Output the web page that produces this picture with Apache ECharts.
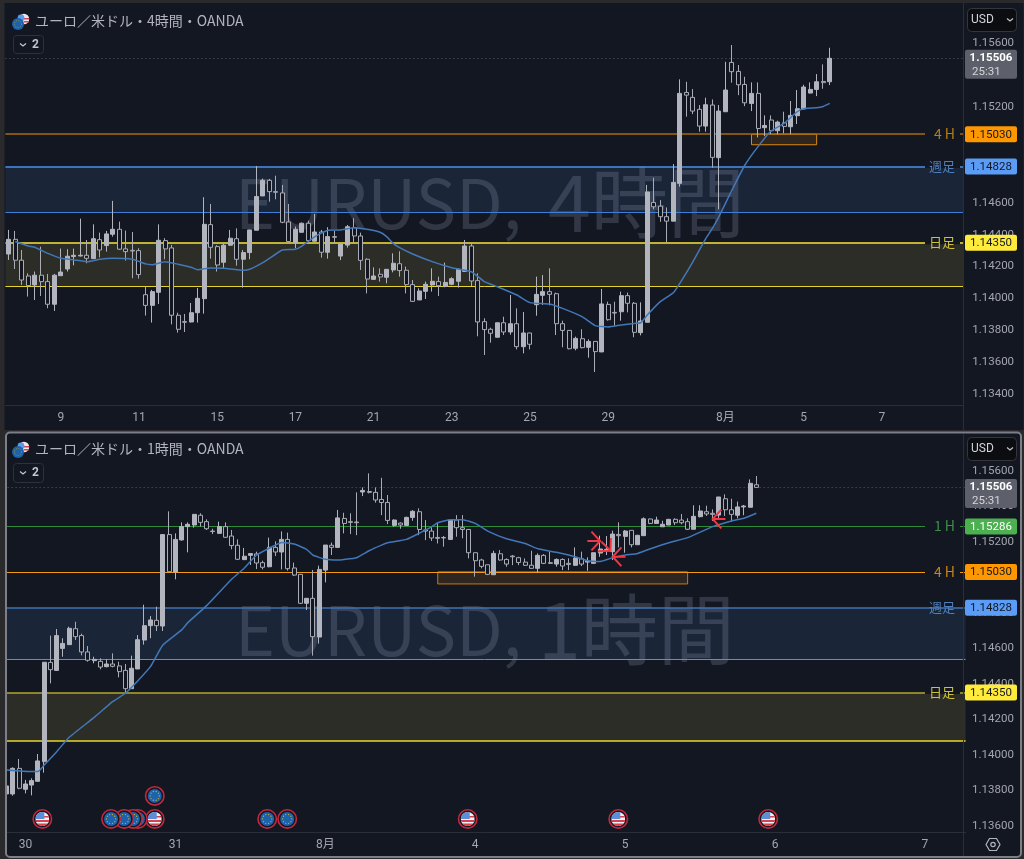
<!DOCTYPE html>
<html><head><meta charset="utf-8">
<style>html,body{margin:0;padding:0;background:#2a2a2c}#c{width:1024px;height:859px}</style>
<script src="https://cdn.jsdelivr.net/npm/echarts@6/dist/echarts.min.js"></script>
</head><body><div id="c"></div>
<script>
// [open, close, low, high]
const candles4h=[
[1.14279,1.14371,1.14242,1.14430],[1.14371,1.14240,1.14185,1.14424],[1.14240,1.14116,1.14085,1.14304],[1.14141,1.14081,1.14012,1.14158],
[1.14085,1.14146,1.13991,1.14169],[1.14146,1.14106,1.14016,1.14325],[1.14106,1.13964,1.13939,1.14154],[1.13964,1.14146,1.13922,1.14154],
[1.14143,1.14166,1.14143,1.14313],[1.14185,1.14265,1.14169,1.14309],[1.14263,1.14271,1.14208,1.14313],[1.14267,1.14271,1.14263,1.14501],
[1.14271,1.14252,1.14221,1.14367],[1.14250,1.14375,1.14250,1.14465],[1.14369,1.14304,1.14258,1.14413],[1.14332,1.14405,1.14294,1.14424],
[1.14403,1.14434,1.14388,1.14612],[1.14434,1.14309,1.14304,1.14482],[1.14311,1.14294,1.14238,1.14426],[1.14302,1.14298,1.14127,1.14417],
[1.14300,1.14150,1.14125,1.14315],[1.14024,1.13957,1.13893,1.14074],[1.13957,1.14043,1.13849,1.14054],[1.14039,1.14365,1.13966,1.14465],
[1.14363,1.14311,1.14246,1.14378],[1.14317,1.13895,1.13838,1.14336],[1.13895,1.13807,1.13786,1.13911],[1.13855,1.13851,1.13790,1.13903],
[1.13853,1.13911,1.13849,1.13972],[1.13911,1.14001,1.13849,1.14066],[1.13999,1.14465,1.13905,1.14635],[1.14463,1.14321,1.14250,1.14593],
[1.14325,1.14210,1.14169,1.14334],[1.14227,1.14334,1.14185,1.14346],[1.14334,1.14378,1.14329,1.14430],[1.14375,1.14246,1.14206,1.14440],
[1.14246,1.14288,1.14068,1.14304],[1.14288,1.14430,1.14246,1.14430],[1.14428,1.14639,1.14428,1.14831],[1.14643,1.14741,1.14643,1.14752],
[1.14741,1.14670,1.14607,1.14750],[1.14670,1.14666,1.14622,1.14770],[1.14662,1.14478,1.14472,1.14712],[1.14480,1.14357,1.14352,1.14593],
[1.14350,1.14434,1.14315,1.14451],[1.14415,1.14472,1.14413,1.14476],[1.14472,1.14363,1.14357,1.14488],[1.14359,1.14417,1.14357,1.14530],
[1.14417,1.14290,1.14256,1.14430],[1.14290,1.14388,1.14250,1.14447],[1.14388,1.14384,1.14350,1.14424],
[1.14266,1.14342,1.14241,1.14342],[1.14335,1.14450,1.14319,1.14461],[1.14444,1.14392,1.14346,1.14503],[1.14392,1.14239,1.14179,1.14413],
[1.14246,1.14122,1.14032,1.14252],[1.14120,1.14141,1.14116,1.14195],[1.14152,1.14135,1.14106,1.14189],[1.14133,1.14183,1.14095,1.14183],
[1.14179,1.14221,1.14164,1.14283],[1.14218,1.14175,1.14137,1.14296],[1.14177,1.14087,1.14032,1.14200],[1.14087,1.13982,1.13980,1.14116],
[1.13991,1.14047,1.13991,1.14064],[1.14045,1.14089,1.13997,1.14106],[1.14085,1.14108,1.14043,1.14189],[1.14106,1.14080,1.14016,1.14137],
[1.14076,1.14101,1.14070,1.14225],[1.14089,1.14124,1.14083,1.14133],[1.14108,1.14183,1.14068,1.14189],[1.14170,1.14329,1.14166,1.14367],
[1.14329,1.14110,1.14078,1.14354],[1.14112,1.13853,1.13763,1.14158],[1.13855,1.13805,1.13646,1.13876],[1.13807,1.13782,1.13723,1.13817],
[1.13757,1.13848,1.13757,1.13848],[1.13848,1.13790,1.13771,1.13886],[1.13790,1.13842,1.13773,1.14022],[1.13842,1.13698,1.13681,1.13938],
[1.13698,1.13784,1.13656,1.13915],[1.13784,1.13713,1.13681,1.13784],[1.13961,1.14026,1.13892,1.14137],[1.14020,1.14043,1.13959,1.14147],
[1.14043,1.14026,1.13957,1.14189],[1.14030,1.13842,1.13771,1.14037],[1.13842,1.13800,1.13694,1.13861],[1.13800,1.13685,1.13681,1.13800],
[1.13688,1.13750,1.13675,1.13761],[1.13748,1.13692,1.13688,1.13807],[1.13694,1.13731,1.13629,1.13744],[1.13731,1.13667,1.13539,1.13731],
[1.13665,1.13966,1.13665,1.14060],[1.13963,1.13867,1.13861,1.13980],[1.13913,1.13909,1.13830,1.13980],[1.13917,1.14018,1.13861,1.14043],
[1.14018,1.13970,1.13913,1.14037],[1.13970,1.13788,1.13757,1.13978],[1.13786,1.13859,1.13769,1.13976],[1.13851,1.14668,1.13851,1.14712],
[1.14602,1.14575,1.14559,1.14757],[1.14579,1.14513,1.14481,1.14617],[1.14513,1.14485,1.14352,1.14571],[1.14485,1.14728,1.14485,1.14843],
[1.14722,1.15286,1.14701,1.15374],[1.15292,1.15275,1.15140,1.15359],[1.15261,1.15175,1.15156,1.15313],[1.15186,1.15081,1.15046,1.15213],
[1.15081,1.15215,1.15046,1.15259],[1.15213,1.14885,1.14820,1.15248],[1.14883,1.15175,1.14559,1.15213],[1.15171,1.15307,1.15171,1.15484],
[1.15480,1.15422,1.15353,1.15589],[1.15424,1.15340,1.15275,1.15464],[1.15342,1.15227,1.15206,1.15390],[1.15223,1.15286,1.15175,1.15355],
[1.15286,1.15066,1.15010,1.15355],[1.15071,1.15085,1.15018,1.15148],[1.15119,1.15052,1.15031,1.15148],[1.15052,1.15106,1.15029,1.15115],
[1.15102,1.15079,1.15035,1.15171],[1.15077,1.15148,1.15031,1.15238],[1.15146,1.15190,1.15094,1.15307],[1.15188,1.15326,1.15186,1.15340],
[1.15288,1.15311,1.15286,1.15355],[1.15311,1.15359,1.15269,1.15407],[1.15361,1.15353,1.15315,1.15468],[1.15359,1.15506,1.15338,1.15572]
];
const candles1h=[
[1.13779,1.13824,1.13770,1.13830],[1.13779,1.13923,1.13769,1.13929],[1.13923,1.13811,1.13805,1.13976],[1.13805,1.13835,1.13782,1.13858],
[1.13829,1.13854,1.13771,1.13867],[1.13850,1.13965,1.13850,1.14004],[1.13961,1.14521,1.13899,1.14521],[1.14520,1.14479,1.14402,1.14671],
[1.14475,1.14671,1.14472,1.14708],[1.14599,1.14627,1.14552,1.14656],[1.14620,1.14712,1.14620,1.14721],[1.14710,1.14665,1.14646,1.14749],
[1.14671,1.14579,1.14560,1.14682],[1.14579,1.14532,1.14524,1.14612],[1.14530,1.14537,1.14515,1.14552],[1.14526,1.14494,1.14481,1.14543],
[1.14496,1.14511,1.14492,1.14537],[1.14511,1.14498,1.14492,1.14571],[1.14500,1.14468,1.14436,1.14524],[1.14475,1.14372,1.14346,1.14511],
[1.14372,1.14487,1.14370,1.14558],[1.14483,1.14648,1.14483,1.14674],[1.14646,1.14727,1.14620,1.14845],[1.14727,1.14759,1.14656,1.14781],
[1.14757,1.14727,1.14697,1.14834],[1.14725,1.15240,1.14697,1.15240],[1.15240,1.15031,1.15031,1.15371],[1.15029,1.15213,1.14988,1.15247],
[1.15210,1.15285,1.15206,1.15309],[1.15285,1.15298,1.15140,1.15309],[1.15294,1.15354,1.15279,1.15354],[1.15349,1.15309,1.15285,1.15360],
[1.15313,1.15273,1.15266,1.15326],[1.15260,1.15257,1.15243,1.15273],[1.15247,1.15285,1.15243,1.15313],[1.15285,1.15225,1.15221,1.15309],
[1.15232,1.15178,1.15157,1.15266],[1.15180,1.15101,1.15097,1.15213],[1.15099,1.15118,1.15097,1.15165],[1.15123,1.15133,1.15069,1.15135],
[1.15131,1.15080,1.15046,1.15144],[1.15082,1.15056,1.15044,1.15093],[1.15059,1.15168,1.15056,1.15223],[1.15168,1.15142,1.15119,1.15202],
[1.15142,1.15213,1.15044,1.15258],[1.15213,1.15048,1.15037,1.15251],[1.15052,1.15012,1.15007,1.15082],[1.15016,1.14853,1.14849,1.15016],
[1.14853,1.14881,1.14815,1.14881],[1.14881,1.14665,1.14558,1.15041],[1.14663,1.15044,1.14626,1.15065],[1.15040,1.15181,1.14971,1.15181],
[1.15180,1.15168,1.15125,1.15195],[1.15168,1.15334,1.15165,1.15379],[1.15331,1.15303,1.15247,1.15363],[1.15313,1.15309,1.15243,1.15360],
[1.15311,1.15307,1.15237,1.15478],[1.15480,1.15489,1.15457,1.15506],[1.15483,1.15478,1.15472,1.15585],[1.15478,1.15435,1.15420,1.15506],
[1.15438,1.15421,1.15350,1.15560],[1.15421,1.15320,1.15299,1.15463],[1.15292,1.15322,1.15284,1.15326],[1.15305,1.15294,1.15273,1.15309],
[1.15292,1.15337,1.15292,1.15341],[1.15337,1.15371,1.15318,1.15378],[1.15369,1.15269,1.15237,1.15388],[1.15266,1.15260,1.15209,1.15322],
[1.15260,1.15221,1.15204,1.15284],[1.15224,1.15219,1.15190,1.15307],[1.15224,1.15221,1.15172,1.15232],[1.15213,1.15322,1.15209,1.15326],
[1.15322,1.15279,1.15228,1.15350],[1.15279,1.15269,1.15219,1.15350],[1.15269,1.15138,1.15106,1.15269],[1.15138,1.15093,1.15003,1.15138],
[1.15097,1.15061,1.15050,1.15104],[1.15070,1.15016,1.15012,1.15070],[1.15014,1.15134,1.15014,1.15149],[1.15132,1.15097,1.15093,1.15153],
[1.15100,1.15074,1.15059,1.15106],[1.15119,1.15115,1.15068,1.15125],[1.15110,1.15083,1.15068,1.15115],[1.15085,1.15067,1.15063,1.15106],
[1.15067,1.15050,1.15050,1.15149],[1.15050,1.15123,1.15025,1.15134],[1.15123,1.15078,1.15074,1.15130],[1.15082,1.15078,1.15074,1.15144],
[1.15074,1.15100,1.15059,1.15106],[1.15100,1.15063,1.15040,1.15106],[1.15078,1.15072,1.15040,1.15106],[1.15067,1.15108,1.15063,1.15168],
[1.15104,1.15074,1.15063,1.15144],[1.15085,1.15091,1.15036,1.15112],[1.15078,1.15138,1.15078,1.15138],[1.15136,1.15159,1.15115,1.15234],
[1.15149,1.15157,1.15125,1.15232],[1.15144,1.15243,1.15097,1.15262],[1.15241,1.15234,1.15168,1.15309],[1.15230,1.15260,1.15138,1.15266],
[1.15264,1.15183,1.15168,1.15264],[1.15183,1.15236,1.15183,1.15239],[1.15234,1.15329,1.15232,1.15337],[1.15328,1.15303,1.15299,1.15331],
[1.15303,1.15322,1.15303,1.15341],[1.15284,1.15298,1.15284,1.15318],[1.15294,1.15326,1.15294,1.15328],[1.15326,1.15307,1.15294,1.15332],
[1.15322,1.15307,1.15298,1.15356],[1.15313,1.15270,1.15266,1.15332],[1.15270,1.15343,1.15270,1.15405],[1.15341,1.15373,1.15337,1.15405],
[1.15369,1.15356,1.15345,1.15403],[1.15360,1.15354,1.15317,1.15382],[1.15350,1.15452,1.15322,1.15452],[1.15442,1.15380,1.15345,1.15467],
[1.15380,1.15354,1.15313,1.15442],[1.15349,1.15396,1.15332,1.15426],[1.15396,1.15401,1.15349,1.15407],[1.15394,1.15529,1.15394,1.15551],
[1.15521,1.15506,1.15506,1.15570]
];
// moving average, read as [candle index, price]
const ma4h=[[1,1.14357],[3,1.14329],[4,1.14321],[6,1.14283],[8,1.14252],[10,1.14242],[12,1.14231],[14,1.14246],[16,1.14252],[19,1.14246],[21,1.14217],[22,1.14212],[24,1.14231],[26,1.14215],[28,1.14196],[29,1.14181],[31,1.14192],[33,1.14190],[36,1.14177],[37,1.14183],[39,1.14225],[41,1.14279],[42,1.14304],[44,1.14309],[45,1.14329],[47,1.14388],[49,1.14428],[50,1.14430],[51,1.14430],[53,1.14444],[55,1.14434],[57,1.14415],[58,1.14388],[59,1.14346],[60,1.14319],[62,1.14279],[65,1.14231],[68,1.14193],[71,1.14168],[73,1.14106],[75,1.14074],[78,1.14022],[80,1.13974],[83,1.13965],[85,1.13938],[88,1.13886],[90,1.13830],[92,1.13821],[94,1.13834],[96,1.13844],[97,1.13848],[98,1.13896],[100,1.13980],[102,1.14036],[103,1.14095],[105,1.14230],[107,1.14377],[108,1.14439],[109,1.14513],[111,1.14680],[113,1.14837],[115,1.14952],[117,1.15050],[119,1.15098],[121,1.15171],[122,1.15190],[124,1.15196],[125,1.15204],[126,1.15223]];
const ma1h=[[0,1.13914],[4,1.13905],[5,1.13905],[6,1.13942],[8,1.14017],[10,1.14098],[14,1.14210],[17,1.14300],[19,1.14346],[21,1.14417],[23,1.14496],[25,1.14618],[28,1.14703],[29,1.14744],[32,1.14840],[36,1.14988],[38,1.15050],[40,1.15125],[43,1.15181],[44,1.15196],[46,1.15187],[48,1.15157],[49,1.15125],[51,1.15101],[53,1.15097],[54,1.15100],[56,1.15110],[58,1.15149],[60,1.15181],[61,1.15194],[64,1.15213],[66,1.15247],[68,1.15284],[69,1.15307],[71,1.15324],[73,1.15324],[75,1.15303],[77,1.15260],[80,1.15217],[83,1.15190],[85,1.15160],[88,1.15140],[91,1.15115],[93,1.15093],[95,1.15089],[97,1.15110],[99,1.15125],[101,1.15134],[104,1.15172],[106,1.15194],[109,1.15223],[113,1.15285],[116,1.15317],[118,1.15332],[120,1.15360]];
const xIdx4h=[8,20,32,44,56,68,80,92,110,122,134];
const xLab4h=['9','11','15','17','21','23','25','29','8月','5','7'];
const xIdx1h=[3,27,51,75,99,123,147];
const xLab1h=['30','31','8月','4','5','6','7'];
const yTicks4h=[1.156,1.154,1.152,1.15,1.148,1.146,1.144,1.142,1.14,1.138,1.136,1.134];
const yTicks1h=[1.156,1.154,1.152,1.15,1.148,1.146,1.144,1.142,1.14,1.138,1.136];
const lastPrice=1.15506;
const countdown='25:31';
const level1H=1.15286, level4H=1.1503, levelW=1.14828, levelWLow4h=1.14542, levelWLow1h=1.14539, levelD=1.1435, levelDLow=1.14078;
const box4h=[114,124,1.1503,1.14964];
const box1h=[69,109,1.1503,1.14962];
// [candle position, price, kind]
const events=[[73.8,1.13638,'US'],[97.9,1.13638,'US'],[121.9,1.13638,'US'],[44.9,1.13638,'EU'],[41.7,1.13638,'EU'],[23.7,1.13768,'EU'],[23.7,1.13638,'US'],[5.7,1.13638,'US'],[21.0,1.13638,'EU'],[20.2,1.13638,'EU'],[18.8,1.13638,'EU'],[16.7,1.13638,'EU']];
// [candle position, price, direction in degrees]
const arrows=[[95,1.15204,0],[96.65,1.15149,45],[97,1.15115,180],[113,1.15328,180]];

const PANEL='#131722', UP='#b2b5be', FONT='Roboto, "Noto Sans CJK JP", sans-serif', CJK='"Noto Sans CJK JP", sans-serif';
const WM='rgba(150,160,185,0.24)';
const cats=(n,idx,lab)=>{const a=Array(n).fill('');idx.forEach((v,i)=>a[v]=lab[i]);return a;};
const xPos=(api,v)=>{const f=Math.floor(v);return api.coord([f,0])[0]+(v-f)*api.size([1,0])[0];};

function tagSeries(gi,list){
 return {type:'custom',xAxisIndex:gi,yAxisIndex:gi,clip:false,silent:true,z:4,data:list.map(t=>[0,t.v]),
  renderItem(p,api){
   const t=list[p.dataIndex], y=api.coord([0,t.v])[1], ch=[];
   if(t.last){
    ch.push({type:'rect',shape:{x:965,y:y-8.5,width:52,height:29,r:2},style:{fill:'#5d606b'}});
    ch.push({type:'text',style:{x:991,y:y,text:t.v.toFixed(5),fill:'#fff',font:'bold 11.5px '+FONT,align:'center',verticalAlign:'middle'}});
    ch.push({type:'text',style:{x:972,y:y+14,text:countdown,fill:'#d4d5da',font:'11.5px '+FONT,align:'left',verticalAlign:'middle'}});
   }else{
    ch.push({type:'rect',shape:{x:965,y:y-8,width:52,height:16,r:2},style:{fill:t.fill}});
    ch.push({type:'text',style:{x:991,y:y+.5,text:t.v.toFixed(5),fill:t.ink,font:'11.5px '+FONT,align:'center',verticalAlign:'middle'}});
    if(t.bg)ch.push({type:'rect',shape:{x:925,y:y-1.5,width:35,height:3},style:{fill:t.bg}});
    ch.push({type:'text',style:{x:955,y:y-.5,text:t.text,fill:t.tc,font:(t.text.includes('H')?'14px ':'13px ')+CJK,align:'right',verticalAlign:'middle'}});
   }
   return {type:'group',children:ch};
  }};
}
function bars(gi,data,extra){
 return Object.assign({type:'candlestick',xAxisIndex:gi,yAxisIndex:gi,data,barWidth:4.5,z:3,silent:true,
  itemStyle:{color:UP,color0:PANEL,borderColor:'#b2b5be',borderColor0:'#a9acb5',borderWidth:1}},extra);
}
const lineItem=(v,color,width,type)=>({yAxis:v,lineStyle:{color,width,type:type||'solid'}});
const flagIcon=(x,y,kind)=>{
 const ch=[{type:'circle',shape:{cx:x,cy:y,r:9.2},style:{fill:PANEL,stroke:'#c4283c',lineWidth:1.6}}];
 if(kind==='EU'){
  ch.push({type:'circle',shape:{cx:x,cy:y,r:7},style:{fill:'#1c62ad'}});
  for(let i=0;i<10;i++){const a=i*Math.PI/5;ch.push({type:'circle',shape:{cx:x+4.6*Math.cos(a),cy:y+4.6*Math.sin(a),r:.65},style:{fill:'#c9b03a'}});}
 }else{
  ch.push({type:'group',clipPath:{type:'circle',shape:{cx:x,cy:y,r:7}},children:[
   {type:'rect',shape:{x:x-7,y:y-7,width:14,height:14},style:{fill:'#eef0f4'}},
   {type:'rect',shape:{x:x-7,y:y+1,width:14,height:2},style:{fill:'#d8414f'}},
   {type:'rect',shape:{x:x-7,y:y+4.5,width:14,height:2.5},style:{fill:'#d8414f'}},
   {type:'rect',shape:{x:x-7,y:y-3,width:14,height:1.6},style:{fill:'#d8414f'}},
   {type:'rect',shape:{x:x-7,y:y-7,width:9,height:7},style:{fill:'#5a8fd8'}}
  ]});
 }
 return ch;
};
const miniFlags=(x,y)=>({type:'group',z:20,children:[
 {type:'circle',shape:{cx:x+6,cy:y-5,r:5.2},style:{fill:'#e9e9ee'}},
 {type:'rect',shape:{x:x+6,y:y-6,width:5,height:1.5},style:{fill:'#d8414f'}},
 {type:'rect',shape:{x:x+6,y:y-3,width:5,height:1.5},style:{fill:'#d8414f'}},
 {type:'circle',shape:{cx:x+3,cy:y-6,r:3.4},style:{fill:'#5a9be8'}},
 {type:'circle',shape:{cx:x,cy:y,r:6},style:{fill:'#1c62ad'}},
 {type:'circle',shape:{cx:x,cy:y,r:3.6},style:{fill:'none',stroke:'#b8a83a',lineWidth:.7,lineDash:[1,1.4]}}
]});
const txt=(x,y,text,fill,font,align,z)=>({type:'text',z:z||20,style:{x,y,text,fill,font,align:align||'left',verticalAlign:'middle'}});
const rect=(x,y,w,h,style,r,z)=>({type:'rect',z:z==null?20:z,silent:true,shape:{x,y,width:w,height:h,r:r||0},style});

const tags4h=[
 {v:lastPrice,last:true},
 {v:level4H,fill:'#ff9800',ink:'#131722',text:'4 H',tc:'#b87c15',bg:PANEL},
 {v:levelW,fill:'#5b9cf6',ink:'#131722',text:'週足',tc:'#4f7fbc',bg:PANEL},
 {v:levelD,fill:'#ffeb3b',ink:'#131722',text:'日足',tc:'#cfc23a',bg:PANEL}];
const tags1h=[
 {v:lastPrice,last:true},
 {v:level1H,fill:'#4caf50',ink:'#fff',text:'1 H',tc:'#3c8f46',bg:PANEL},
 {v:level4H,fill:'#ff9800',ink:'#131722',text:'4 H',tc:'#c98414',bg:PANEL},
 {v:levelW,fill:'#5b9cf6',ink:'#131722',text:'週足',tc:'#4f7fbc'},
 {v:levelD,fill:'#ffeb3b',ink:'#131722',text:'日足',tc:'#cfc23a',bg:PANEL}];

const axisX=(gi,n,idx,lab)=>({type:'category',gridIndex:gi,data:cats(n,idx,lab),boundaryGap:true,
 axisLine:{show:true,lineStyle:{color:'#2a2e39',width:1}},axisTick:{show:false},splitLine:{show:false},
 axisLabel:{color:'#a3a6af',fontFamily:FONT,fontSize:12,margin:7,interval:(i)=>idx.includes(i),hideOverlap:false,showMinLabel:true,showMaxLabel:true}});
const axisY=(gi,min,max,ticks,margin)=>({type:'value',gridIndex:gi,position:'right',min,max,scale:true,
 axisLine:{show:false},axisTick:{show:false},splitLine:{show:false},
 axisLabel:{color:'#a3a6af',fontFamily:FONT,fontSize:11.5,margin,customValues:ticks,formatter:v=>v.toFixed(5),showMinLabel:true,showMaxLabel:true}});

const option={
 animation:false,
 backgroundColor:'#2a2a2c',
 grid:[{left:5.41,right:60.74,top:3,height:402,containLabel:false},{left:3.6,right:58.4,top:434,height:398,containLabel:false}],
 xAxis:[axisX(0,147,xIdx4h,xLab4h),axisX(1,154,xIdx1h,xLab1h)],
 yAxis:[axisY(0,1.133323,1.158527,yTicks4h,9),axisY(1,1.135645,1.158068,yTicks1h,6.5)],
 graphic:{elements:[
  rect(4.5,3,1019,427,{fill:PANEL},0,-10),
  rect(6,433,1015,424,{fill:PANEL},0,-10),
  txt(235,203,'EURUSD,',WM,'68px '+CJK,'left',2),
  txt(548,203,'4時間',WM,'77px '+CJK,'left',2),
  txt(235,630,'EURUSD,',WM,'68px '+CJK,'left',2),
  txt(538,630,'1時間',WM,'77px '+CJK,'left',2),
  rect(963,3,1,427,{fill:'#2a2e39'},0,15),
  rect(963,434,1,422,{fill:'#2a2e39'},0,15),
  rect(0,433,5,426,{fill:'#2a2a2c'},0,30),
  rect(6,432.5,1015,424.5,{fill:'none',stroke:'#7c7f87',lineWidth:2},4,31),
  miniFlags(18,24),miniFlags(18,452),
  txt(35,21,'ユーロ／米ドル・4時間・OANDA','#b2b5be','14px '+CJK),
  txt(35,449,'ユーロ／米ドル・1時間・OANDA','#b2b5be','14px '+CJK),
  rect(13.5,35.5,30,18,{fill:PANEL,stroke:'#2e3138',lineWidth:1},3),
  rect(13.5,463.5,30,19,{fill:PANEL,stroke:'#2e3138',lineWidth:1},3),
  txt(32,45,'2','#c3c5cb','bold 12px '+FONT),
  txt(32,473,'2','#c3c5cb','bold 12px '+FONT),
  {type:'polyline',z:20,shape:{points:[[20,43.5],[23,46],[26,43.5]]},style:{stroke:'#c3c5cb',lineWidth:1.3,fill:'none'}},
  {type:'polyline',z:20,shape:{points:[[20,471.5],[23,474],[26,471.5]]},style:{stroke:'#c3c5cb',lineWidth:1.3,fill:'none'}},
  rect(967.5,8.5,49,23,{fill:'#0c0d10',stroke:'#34363c',lineWidth:1},4),
  rect(967.5,437.5,49,23,{fill:'#0c0d10',stroke:'#34363c',lineWidth:1},4),
  txt(971,20,'USD','#d1d4dc','12px '+FONT),
  txt(971,449,'USD','#d1d4dc','12px '+FONT),
  {type:'polyline',z:20,shape:{points:[[1007,18.5],[1010,21],[1013,18.5]]},style:{stroke:'#c3c5cb',lineWidth:1.2,fill:'none'}},
  {type:'polyline',z:20,shape:{points:[[1007,447.5],[1010,450],[1013,447.5]]},style:{stroke:'#c3c5cb',lineWidth:1.2,fill:'none'}},
  {type:'polygon',z:20,shape:{points:[[986,844.5],[989.5,838.5],[996.5,838.5],[1000,844.5],[996.5,850.5],[989.5,850.5]]},style:{stroke:'#b2b5be',lineWidth:1.2,fill:'none'}},
  {type:'circle',z:20,shape:{cx:993,cy:844.5,r:2.2},style:{stroke:'#b2b5be',lineWidth:1.2,fill:'none'}}
 ]},
 series:[
  bars(0,candles4h,{
   markArea:{silent:true,z:1,data:[
    [{yAxis:levelW,itemStyle:{color:'#1a2538'}},{yAxis:levelWLow4h}],
    [{yAxis:levelD,itemStyle:{color:'#2d2d28'}},{yAxis:levelDLow}],
    [{xAxis:box4h[0],yAxis:box4h[2],itemStyle:{color:'#2f2620',borderColor:'#d98a12',borderWidth:1}},{xAxis:box4h[1],yAxis:box4h[3]}]
   ]},
   markLine:{silent:true,z:2,precision:5,symbol:'none',label:{show:false},data:[
    lineItem(lastPrice,'#585b66',1,[1,3]),
    lineItem(level4H,'#a96c0e',1.5),
    lineItem(levelW,'#4a8fe8',1.5),
    lineItem(levelWLow4h,'#3d7fd6',1),
    lineItem(levelD,'#f6e23a',1.5),
    lineItem(levelDLow,'#e5d430',1)
   ]}}),
  {type:'line',xAxisIndex:0,yAxisIndex:0,data:ma4h,smooth:.15,showSymbol:false,silent:true,z:4,lineStyle:{color:'#4277b8',width:1.5}},
  bars(1,candles1h,{
   markArea:{silent:true,z:1,data:[
    [{yAxis:levelW,itemStyle:{color:'#1a2538'}},{yAxis:levelWLow1h}],
    [{yAxis:levelD,itemStyle:{color:'#2d2d28'}},{yAxis:levelDLow}],
    [{xAxis:box1h[0],yAxis:box1h[2],itemStyle:{color:'#2f2620',borderColor:'#c67a10',borderWidth:1}},{xAxis:box1h[1],yAxis:box1h[3]}]
   ]},
   markLine:{silent:true,z:2,precision:5,symbol:'none',label:{show:false},data:[
    lineItem(lastPrice,'#585b66',1,[1,3]),
    lineItem(level1H,'#2e8b3a',1),
    lineItem(level4H,'#f59a10',1),
    lineItem(levelW,'#3f72b4',1.6),
    lineItem(levelWLow1h,'#5a8fd0',1),
    lineItem(levelD,'#b0a62c',1.5),
    lineItem(levelDLow,'#e6d82e',1.5)
   ]}}),
  {type:'line',xAxisIndex:1,yAxisIndex:1,data:ma1h,smooth:.15,showSymbol:false,silent:true,z:4,lineStyle:{color:'#4277b8',width:1.5}},
  tagSeries(0,tags4h),
  tagSeries(1,tags1h),
  {type:'custom',xAxisIndex:1,yAxisIndex:1,clip:false,silent:true,z:5,data:events.map(e=>[Math.floor(e[0]),e[1]]),
   renderItem(p,api){const e=events[p.dataIndex];return {type:'group',children:flagIcon(xPos(api,e[0]),api.coord([0,e[1]])[1],e[2])};}},
  {type:'custom',xAxisIndex:1,yAxisIndex:1,clip:false,silent:true,z:6,data:arrows.map(a=>[Math.floor(a[0]),a[1]]),
   renderItem(p,api){
    const a=arrows[p.dataIndex],x=xPos(api,a[0]),y=api.coord([0,a[1]])[1],t=a[2]*Math.PI/180,L=12.8,back=(o)=>[x-L*Math.cos(t+o),y-L*Math.sin(t+o)],d=47*Math.PI/180;
    const st={stroke:'#f23645',lineWidth:2,fill:'none'};
    return {type:'group',children:[
     {type:'polyline',shape:{points:[back(0),[x,y]]},style:st},
     {type:'polyline',shape:{points:[back(d),[x,y],back(-d)]},style:st}]};
   }}
 ]
};
echarts.init(document.getElementById('c'),null,{renderer:'canvas'}).setOption(option);
</script></body></html>
